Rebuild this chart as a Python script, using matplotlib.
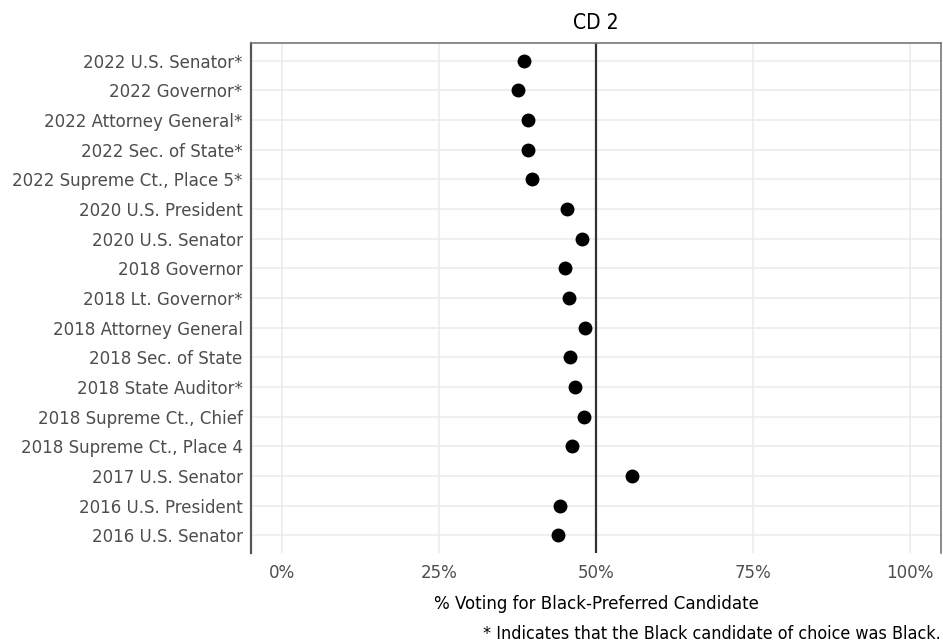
import matplotlib
matplotlib.use('Agg')
import matplotlib.pyplot as plt
from matplotlib.ticker import FuncFormatter

plt.rcParams['font.family'] = ['DejaVu Sans']
plt.rcParams['font.stretch'] = 'condensed'

contests = [
    '2022 U.S. Senator*', '2022 Governor*', '2022 Attorney General*',
    '2022 Sec. of State*', '2022 Supreme Ct., Place 5*', '2020 U.S. President',
    '2020 U.S. Senator', '2018 Governor', '2018 Lt. Governor*',
    '2018 Attorney General', '2018 Sec. of State', '2018 State Auditor*',
    '2018 Supreme Ct., Chief', '2018 Supreme Ct., Place 4', '2017 U.S. Senator',
    '2016 U.S. President', '2016 U.S. Senator',
]
pct_black_pref = [38.6, 37.6, 39.1, 39.2, 39.8, 45.3, 47.7, 45.1, 45.7,
                  48.3, 45.8, 46.6, 48.1, 46.1, 55.8, 44.2, 43.9]
x_ticks = [0, 25, 50, 75, 100]

fig = plt.figure(figsize=(9.43, 6.44), dpi=100)
ax = fig.add_axes([251/943, 1-553/644, 690/943, 510/644])

ax.plot(pct_black_pref, contests, 'o', color='black', markersize=9, zorder=3)
ax.axvline(50, color='#333333', linewidth=1.6, zorder=2)

ax.set_xlim(-5, 105)
ax.set_ylim(len(contests) - 0.4, -0.6)
ax.set_xticks(x_ticks)
ax.xaxis.set_major_formatter(FuncFormatter(lambda v, p: '%d%%' % v))
ax.grid(True, color='#EBEBEB', linewidth=1.1, zorder=0)
ax.set_axisbelow(True)
ax.tick_params(length=0, labelsize=13.3, labelcolor='#4D4D4D')
ax.tick_params(axis='y', pad=6)
ax.tick_params(axis='x', pad=8)

ax.spines['bottom'].set_visible(False)
ax.spines['left'].set_color('#555555')
ax.spines['left'].set_linewidth(1.6)
for s in ['top', 'right']:
    ax.spines[s].set_color('#777777')
    ax.spines[s].set_linewidth(1.2)

ax.set_title('CD 2', fontsize=15, pad=10)
ax.set_xlabel('% Voting for Black-Preferred Candidate', fontsize=13.3, labelpad=9)
fig.text(941/943, 1-634/644, '* Indicates that the Black candidate of choice was Black.',
         ha='right', va='center', fontsize=12.9)

plt.savefig('out.png', dpi=100)
